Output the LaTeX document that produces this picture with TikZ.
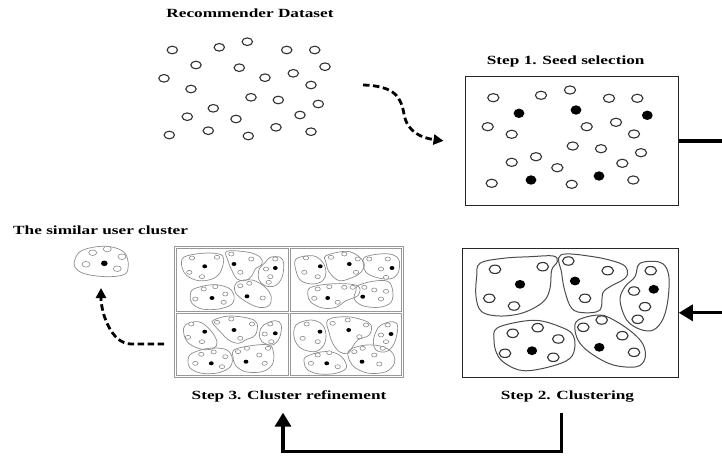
\documentclass[tikz,border=0pt]{standalone}
\usepackage{fontspec}
\setmainfont{Liberation Serif}[FakeStretch=1.38]
\usetikzlibrary{arrows.meta,positioning}
\tikzset{
    step-title/.style = {font=\bfseries\fontsize{12.5}{14}\selectfont, inner sep=0pt},
    step-box/.style = {draw=black!85, line width=1pt, inner sep=0pt},
    user/.style = {draw=black!80, line width=1.1pt, fill=white},
    mini-user/.style = {draw=gray!90, line width=0.6pt, fill=white},
    blob/.style = {draw=black!70, line width=1pt},
    mini-blob/.style = {draw=gray!90, line width=0.7pt},
    mini-panel/.style = {draw=gray!80, line width=0.6pt},
    flow/.style = {line width=3.3pt, -{Triangle[width=16pt, length=14pt]}},
    dash-flow/.style = {line width=2.8pt, dash pattern=on 6.5pt off 3.5pt, -{Triangle[width=10pt, length=10pt]}},
}
\begin{document}
\begin{tikzpicture}[x=1pt, y=-1pt]
\useasboundingbox (0,0) rectangle (722,455);

% recommender dataset
\node[step-title] (datatitle) at (250,12.8) {Recommender Dataset};
\foreach \x/\y in {172.3/50, 219.3/47.3, 247.3/41.7, 286.7/50, 314.7/50, 196/65, 239.3/67.7, 325/66.7,
    164/78.3, 265/77.7, 293.3/73.3, 191/89, 311/85, 251/97.3, 278.3/100, 318.3/104, 213.3/108.3,
    187.3/116.7, 236/119, 300/115, 169.3/135, 208.3/130.7, 248.3/136, 276/127.3, 311/131.7}
    \draw[user] (\x,\y) ellipse [x radius=5.2, y radius=3.8];
\coordinate (dataout) at (363,85);
\coordinate (databend) at (404,114);

% step 1
\node[step-box, minimum width=213.3pt, minimum height=129.7pt] (seedbox) at (571.7,140.9) {};
\node[step-title, above=8pt of seedbox, xshift=-6pt] (seedtitle) {Step 1. Seed selection};
\foreach \x/\y in {493.3/97.7, 541/95.3, 570/90, 609/98.3, 637.3/98.3, 487.7/126.7, 511.7/134.3,
    586.7/126.7, 616/122.3, 634/134, 572.7/146, 601/148.7, 641/152.7, 536/156.7, 511.7/162.3,
    557.3/167.7, 622.3/163.3, 491.7/183.3, 571.7/184.3, 633.3/180}
    \draw[user] (\x,\y) ellipse [x radius=5.6, y radius=4.1];
\foreach \x/\y in {519/113.3, 576/110, 647.3/115.3, 531/180, 599/176}
    \fill (\x,\y) ellipse [x radius=5.4, y radius=4.7];

\draw[dash-flow] (dataout) .. controls +(33,1) and +(-3,-16) .. (databend)
    .. controls +(3,18) and +(-22,-3) .. ([xshift=-21pt]seedbox.west);

% step 2
\node[step-box, minimum width=215.6pt, minimum height=129pt] (clusterbox) at (570.5,312.8) {};
\node[step-title, below=13pt of clusterbox, xshift=-3pt] (clustertitle) {Step 2. Clustering};
\draw[blob] plot[smooth cycle, tension=0.6] coordinates {(480,263.3)(503.3,258.3)(530,256.7)(553.3,256)(557.3,261.7)(551.7,270)(550,288.3)(543.3,301.7)(523.3,312.7)(500,316)(481.7,311.7)(476,296.7)(476.7,276.7)};
\draw[blob] plot[smooth cycle, tension=0.6] coordinates {(560.7,255)(593.3,256.7)(620,263.3)(627.3,270)(625,278.3)(610,286.7)(602.7,293.3)(600,310)(583.3,312.7)(571.7,308.3)(565,291.7)(561.7,273.3)};
\draw[blob] plot[smooth cycle, tension=0.6] coordinates {(640,263.3)(660,262.3)(668.3,273.3)(668.3,296.7)(663.3,318.3)(653.3,330)(640,329.3)(626.7,320)(620,300)(625,286.7)(635,276.7)};
\draw[blob] plot[smooth cycle, tension=0.6] coordinates {(496.7,328.3)(520,321.7)(540,320.7)(560,326.7)(571.7,333.3)(575,345)(570,358.3)(550,366.7)(523.3,370.7)(505,363.3)(496.7,353.3)(494,340)};
\draw[blob] plot[smooth cycle, tension=0.6] coordinates {(578.3,320)(600,315)(616.7,321.7)(633.3,333.3)(643.3,345)(645,358.3)(636.7,366.7)(613.3,365)(593.3,355)(580,343.3)(575,330)};
\foreach \x/\y in {495/269.3, 542.7/266.7, 489.3/298.3, 514/306, 568.3/261, 607.7/270.7, 585/298.3,
    650.7/270.7, 634/291, 645/306.7, 637.7/319.3, 512.7/333.3, 537.7/327.7, 558.3/339, 505/353.3,
    553.3/357.3, 601.7/320, 583.3/327.3, 622.3/335.7, 634/352.3}
    \draw[user] (\x,\y) ellipse [x radius=5.8, y radius=4.2];
\foreach \x/\y in {520/284.3, 575/281, 653.7/289.3, 532/350.7, 599.3/347.3}
    \fill (\x,\y) ellipse [x radius=5.2, y radius=4.4];

\draw[flow] (seedbox.east) -- ++(60,0) |- (clusterbox.east);

% step 3
\node[mini-panel, inner sep=0pt, minimum width=229pt, minimum height=131pt] (refinegrid) at (289,312) {};
\node[step-title, below=13pt of refinegrid] (refinetitle) {Step 3. Cluster refinement};
\draw[mini-panel] (176.5,248.5) rectangle (288.5,311);
\draw[mini-panel] (290.5,248.5) rectangle (401.5,311);
\draw[mini-panel] (176.5,313) rectangle (288.5,375.5);
\draw[mini-panel] (290.5,313) rectangle (401.5,375.5);
% top left
\draw[mini-blob] plot[smooth cycle, tension=0.6] coordinates {(183.7,257.3)(202,253.3)(218.7,254)(223.7,259)(220.3,272.3)(212,279)(198.7,280.7)(187,275.7)(182,267.3)};
\draw[mini-blob] plot[smooth cycle, tension=0.6] coordinates {(227,251.3)(248.7,252.3)(260.3,257.3)(262,264)(255.3,269)(252,275.7)(245.3,280.7)(237,279)(232,270.7)(228,260.7)};
\draw[mini-blob] plot[smooth cycle, tension=0.6] coordinates {(270.3,257.3)(280.3,257.3)(283.7,264)(282,277.3)(275.3,285.7)(265.3,285.7)(258.7,279)(259.3,269)(265.3,262.3)};
\draw[mini-blob] plot[smooth cycle, tension=0.6] coordinates {(193.7,289)(212,284.7)(227,287.3)(233.7,294)(232,304)(218.7,309)(202,309)(192,303.3)(190.3,295.7)};
\draw[mini-blob] plot[smooth cycle, tension=0.6] coordinates {(237,282.3)(252,280)(265.3,287.3)(271.3,297.3)(268.7,305.7)(258.7,307.3)(245.3,301.3)(235.3,292.3)};
% top right
\draw[mini-blob] plot[smooth cycle, tension=0.6] coordinates {(296,259)(312.7,255.7)(322.7,262.3)(326,272.3)(322.7,280.7)(312.7,284)(301,280.7)(296,270.7)};
\draw[mini-blob] plot[smooth cycle, tension=0.6] coordinates {(326,255.7)(346,251.3)(357.7,255.7)(364.3,264)(361,272.3)(352.7,277.3)(339.3,280.7)(329.3,272.3)(326,262.3)};
\draw[mini-blob] plot[smooth cycle, tension=0.6] coordinates {(364.3,257.3)(379.3,254)(392.7,254.7)(399.3,260.7)(397.7,274)(389.3,279)(376,277.3)(366,272.3)(363.3,264)};
\draw[mini-blob] plot[smooth cycle, tension=0.6] coordinates {(311,287.3)(329.3,284)(349.3,284)(359.3,287.3)(357.7,295.7)(346,300.7)(336,307.3)(322.7,308)(311,302.3)(307.7,294)};
\draw[mini-blob] plot[smooth cycle, tension=0.6] coordinates {(357.7,285.7)(372.7,281.3)(387.7,281.3)(392.7,290.7)(391,302.3)(379.3,307.3)(362.7,305.7)(354.3,299)(356,290.7)};
% bottom left
\draw[mini-blob] plot[smooth cycle, tension=0.6] coordinates {(185.3,325)(198.7,321.7)(210.3,330)(217,341.7)(213.7,348.3)(202,349.3)(188.7,343.3)(183.7,333.3)};
\draw[mini-blob] plot[smooth cycle, tension=0.6] coordinates {(213.7,320)(228.7,316)(248.7,318.3)(257,323.3)(255.3,335)(245.3,340)(238.7,343.3)(228.7,340)(218.7,330)(212.7,323.3)};
\draw[mini-blob] plot[smooth cycle, tension=0.6] coordinates {(263.7,325)(275.3,320.7)(281.3,325)(279.3,338.3)(272,345)(262,341.7)(259.3,333.3)};
\draw[mini-blob] plot[smooth cycle, tension=0.6] coordinates {(192,353.3)(208.7,348.3)(225.3,349.3)(232,356.7)(230.3,366.7)(218.7,372.7)(202,373.3)(190.3,368.3)(188,360)};
\draw[mini-blob] plot[smooth cycle, tension=0.6] coordinates {(233.7,350)(248.7,346)(268.7,345)(273.7,353.3)(272,365)(262,371.7)(245.3,371.7)(235.3,365)(233,356.7)};
% bottom right
\draw[mini-blob] plot[smooth cycle, tension=0.6] coordinates {(296,325)(311,320)(322.7,325)(326,336.7)(322.7,346.7)(314.3,351.7)(301,348.3)(294.3,338.3)};
\draw[mini-blob] plot[smooth cycle, tension=0.6] coordinates {(327.7,320)(346,316.7)(362.7,320)(371,325)(369.3,335)(357.7,340)(352.7,346.7)(347.7,353.3)(339.3,351.7)(332.7,343.3)(329.3,333.3)};
\draw[mini-blob] plot[smooth cycle, tension=0.6] coordinates {(381,325)(392.7,321.7)(397.7,326.7)(394.3,343.3)(386,351.7)(376,350)(373.3,341.7)(376,331.7)};
\draw[mini-blob] plot[smooth cycle, tension=0.6] coordinates {(306,356.7)(322.7,351.7)(336,353.3)(344.3,360)(346,368.3)(336,373.3)(319.3,374)(307.7,370)(304.3,363.3)};
\draw[mini-blob] plot[smooth cycle, tension=0.6] coordinates {(349.3,350)(366,345)(382.7,346.7)(392.7,353.3)(394.3,363.3)(386,371.7)(369.3,373.3)(356,368.3)(349.3,360)};
\foreach \x/\y in {192/258, 217/257.3, 189.3/272.3, 202/276.7, 231.3/254, 251.3/259, 240.3/272.3,
    275.3/259, 266/269, 270.3/276.7, 268.7/282.3, 203.7/289, 215.3/286.7, 195.3/299, 225.3/294,
    223.7/302.3, 240.3/285.7, 249.3/283.3, 262.7/298,
    306/258, 304.3/272.3, 317.7/276.7, 331/257.3, 344.3/254, 357.7/259, 356/272.3, 369.3/259,
    387.7/259, 381/269, 386/277.3, 317.7/289, 329.3/286.7, 344.3/287.3, 352.7/287.3, 314.3/298.3,
    337.7/302.3, 364.3/287.3, 374.3/290, 386/291.3, 381/299,
    191.3/324, 188/337.3, 202/341.7, 217/322.3, 231.3/319, 252/324, 240.3/338.3, 270.3/324,
    264.7/334, 271.3/341.7, 201.3/354.3, 213.7/352, 225.3/356.7, 195.3/363.3, 222/366.7, 238/351.7,
    247/348.3, 268/348.3, 259.3/355, 264.7/363.3,
    306.7/324, 302.7/338.3, 317.7/341.7, 332.7/323.3, 347.7/320, 366/325, 359.3/336.7, 387.7/325,
    381/335, 386/341.7, 382.7/348.3, 317.7/355, 329.3/352.7, 311/363.3, 337.7/366.7, 354.3/351.7,
    362.7/348.3, 374.3/355, 379.3/364}
    \draw[mini-user] (\x,\y) ellipse [x radius=2.7, y radius=2];
\foreach \x/\y in {204.7/266.3, 234/264, 275.3/268, 212/298, 247/296.3,
    320.3/266.3, 349.3/264, 392/268, 327.7/298, 362.7/296.7,
    204.7/331.7, 234/330, 275.3/333.3, 211.3/363.3, 246/361.7,
    320/331.7, 348.7/330, 391/334, 326.7/363.3, 362/361.7}
    \fill (\x,\y) ellipse [x radius=2.4, y radius=2];

\draw[flow] ([xshift=-6pt, yshift=-10pt]clustertitle.south) -- ++(0,39)
    -| ([xshift=-6pt, yshift=-10pt]refinetitle.south);

% similar user cluster
\node[step-title, anchor=base west] (simtitle) at (13,234) {The similar user cluster};
\coordinate (simcluster) at (101,262);
\draw[mini-blob] plot[smooth cycle, tension=0.6] coordinates {(80,251.7)(96.7,246.7)(113.3,247.3)(125,253.3)(128.3,265)(125,274)(110,276.7)(90,275)(78.3,270.7)(74,263.3)};
\foreach \x/\y in {92.7/252.7, 107.3/249, 122/256.7, 86/264.3, 117.3/268.7}
    \draw[mini-user] (\x,\y) ellipse [x radius=4, y radius=2.8];
\fill (104.3,263.3) ellipse [x radius=3.3, y radius=2.8];

\draw[dash-flow] ([xshift=-10pt, yshift=-32pt]refinegrid.west) -- ++(-33,0)
    .. controls +(-20,0) and +(0,25) .. ([yshift=-26pt]simcluster);
\end{tikzpicture}
\end{document}
